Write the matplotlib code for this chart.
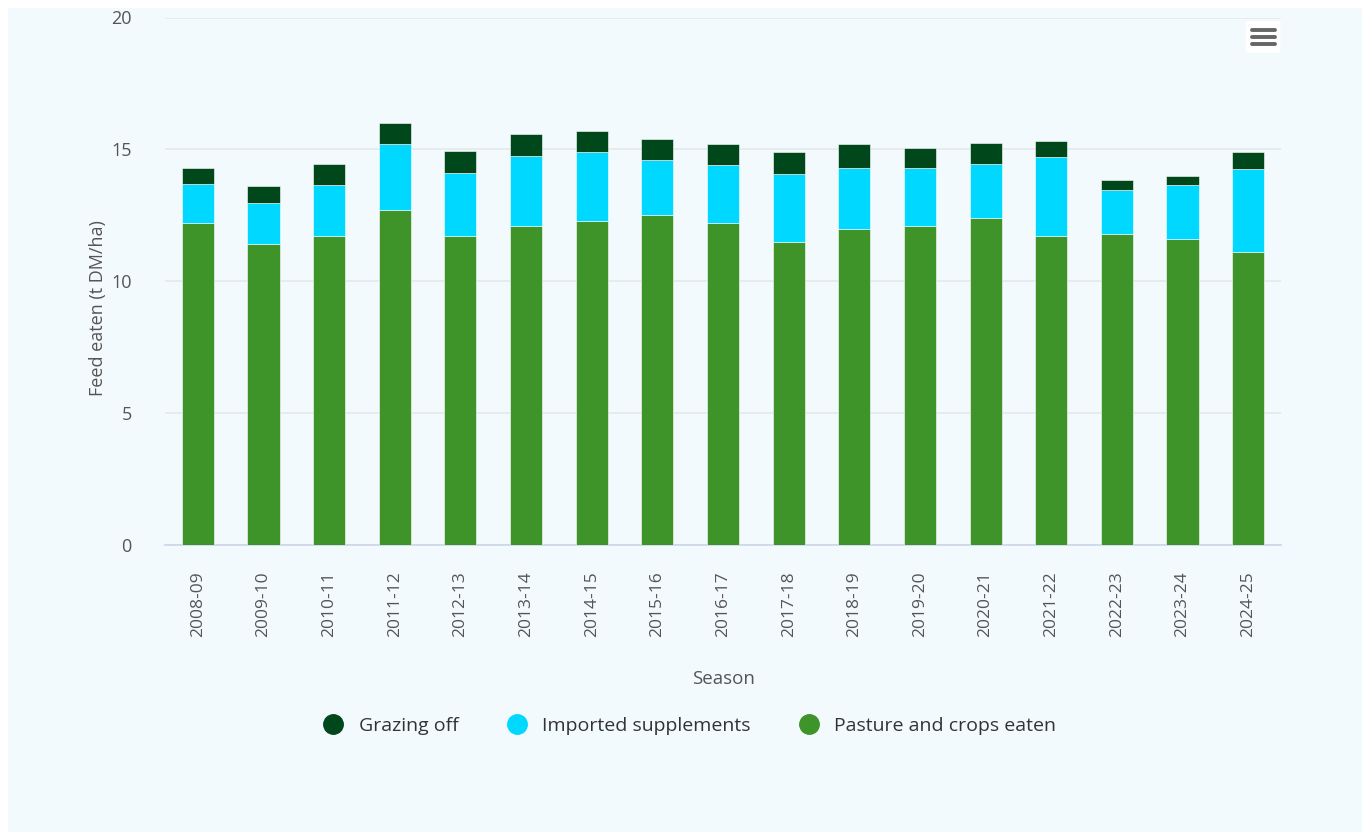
import numpy as np
import matplotlib.pyplot as plt
from matplotlib.patches import FancyBboxPatch, Rectangle
from matplotlib.lines import Line2D

plt.rcParams['font.family'] = ['Open Sans', 'DejaVu Sans']

seasons = ['2008-09', '2009-10', '2010-11', '2011-12', '2012-13', '2013-14',
           '2014-15', '2015-16', '2016-17', '2017-18', '2018-19', '2019-20',
           '2020-21', '2021-22', '2022-23', '2023-24', '2024-25']
pasture = [12.2, 11.4, 11.7, 12.7, 11.7, 12.1, 12.3, 12.5, 12.2, 11.5, 12.0,
           12.1, 12.4, 11.7, 11.8, 11.6, 11.1]
supplements = [1.5, 1.55, 1.95, 2.5, 2.4, 2.65, 2.6, 2.1, 2.2, 2.55, 2.3,
               2.2, 2.05, 3.0, 1.65, 2.05, 3.15]
grazing_off = [0.6, 0.65, 0.8, 0.8, 0.85, 0.85, 0.8, 0.8, 0.8, 0.85, 0.9,
               0.75, 0.8, 0.6, 0.4, 0.35, 0.65]

c_graz = '#00471b'
c_supp = '#00d8ff'
c_past = '#3e9428'
bg = '#f3fafd'
txt = '#555555'

fig = plt.figure(figsize=(13.62, 8.32), dpi=100, facecolor='white')
fig.patches.append(Rectangle((8 / 1362, 0), 1 - 8 / 1362, 1 - 8 / 832,
                             transform=fig.transFigure, facecolor=bg,
                             edgecolor='none', zorder=-5))

ax = fig.add_axes([165 / 1362, 1 - 545 / 832, 1116 / 1362, 527.5 / 832])
ax.set_facecolor('none')
ax.set_zorder(1)

x = np.arange(len(seasons))
w = 0.49
past = np.array(pasture)
supp = np.array(supplements)
ax.bar(x, past, w, color=c_past, edgecolor='#ffffff', linewidth=0.4, zorder=3)
ax.bar(x, supp, w, bottom=past, color=c_supp, edgecolor='#ffffff',
       linewidth=0.4, zorder=3)
ax.bar(x, grazing_off, w, bottom=past + supp, color=c_graz,
       edgecolor='#ffffff', linewidth=0.4, zorder=3)

ax.set_xlim(-0.5, len(seasons) - 0.5)
ax.set_ylim(0, 20)
ax.set_yticks([0, 5, 10, 15, 20])
ax.yaxis.grid(True, color='#e4e8ec', linewidth=1.2, zorder=0)
ax.set_axisbelow(True)
for s in ['top', 'right', 'left']:
    ax.spines[s].set_visible(False)
ax.spines['bottom'].set_color('#ccd6eb')
ax.spines['bottom'].set_linewidth(1.2)

ax.set_xticks(x)
ax.set_xticklabels(seasons, rotation=90, fontsize=12.5, color=txt)
ax.tick_params(axis='x', length=0, pad=19)
ax.tick_params(axis='y', length=0, pad=24, labelsize=13, labelcolor=txt)

ax.set_ylabel('Feed eaten (t DM/ha)', fontsize=13, color=txt,
              fontweight='medium')
ax.yaxis.set_label_coords(-0.052, 0.45)
ax.set_xlabel('Season', fontsize=13.5, color=txt, labelpad=24,
              fontweight='medium')

handles = [Line2D([], [], marker='o', linestyle='none', markersize=14,
                  markerfacecolor=c, markeredgecolor=c)
           for c in (c_graz, c_supp, c_past)]
fig.legend(handles, ['Grazing off', 'Imported supplements',
                     'Pasture and crops eaten'],
           loc='center', bbox_to_anchor=(685 / 1362, 1 - 726 / 832), ncol=3,
           frameon=False, handletextpad=0.3, columnspacing=2.0,
           labelcolor='#333333', prop={'size': 14, 'weight': 'medium'})

# menu button
fig.patches.append(FancyBboxPatch((1247 / 1362, 1 - 52 / 832), 32 / 1362,
                                  30 / 832, boxstyle='round,pad=0.001',
                                  transform=fig.transFigure, facecolor='white',
                                  edgecolor='none', zorder=2))
for yy in (30, 37, 44):
    fig.add_artist(Line2D([1252 / 1362, 1275 / 1362],
                          [1 - yy / 832, 1 - yy / 832],
                          transform=fig.transFigure, color='#666666',
                          linewidth=2.8, solid_capstyle='round', zorder=3))

fig.savefig('out.png', dpi=100, facecolor='white')
